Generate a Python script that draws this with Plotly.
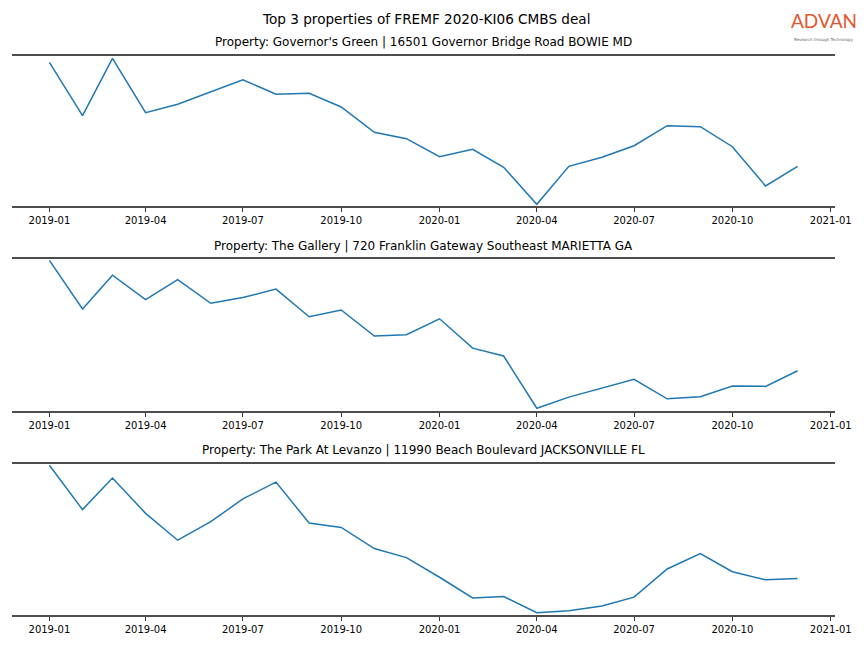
import pandas as pd
import plotly.graph_objects as go

months = pd.date_range("2019-01-01", "2020-12-01", freq="MS")

titles = [
    "Property: Governor's Green | 16501 Governor Bridge Road BOWIE MD",
    "Property: The Gallery | 720 Franklin Gateway Southeast MARIETTA GA",
    "Property: The Park At Levanzo | 11990 Beach Boulevard JACKSONVILLE FL",
]

governors_green = [143.4, 90.0, 147.4, 93.0, 101.4, 113.7, 126.0, 111.4, 112.4, 98.7, 73.4, 67.0,
                   49.0, 56.4, 38.4, 1.4, 39.4, 48.4, 60.0, 80.0, 79.0, 59.0, 19.7, 39.4]
the_gallery = [148.4, 100.4, 133.7, 109.7, 129.4, 106.0, 111.7, 120.0, 92.7, 99.4, 73.7, 75.0,
               90.7, 61.7, 54.0, 2.4, 13.4, 22.0, 31.0, 11.7, 13.7, 24.4, 24.0, 39.4]
park_at_levanzo = [148.4, 104.4, 135.7, 100.7, 74.0, 92.4, 115.0, 131.7, 91.0, 86.7, 65.7, 56.7,
                   37.2, 16.7, 18.0, 2.0, 4.0, 8.7, 17.4, 45.4, 60.7, 42.7, 34.7, 36.0]

series = [governors_green, the_gallery, park_at_levanzo]

W, H = 864, 648
FONT = "DejaVu Sans"

def py(px):
    return 1 - px / H

# plot areas (pixel top, bottom)
areas = [(55.7, 205.7), (258.7, 410.7), (463.7, 614.7)]
title_y = [42, 246, 450]
xdom = [12 / W, 835 / W]
ax_center = (xdom[0] + xdom[1]) / 2

span = months[-1] - months[0]
xrange_ = [months[0] - span * 0.05, months[-1] + span * 0.05]

fig = go.Figure()
layout = dict(
    width=W, height=H,
    autosize=False,
    margin=dict(l=0, r=0, t=0, b=0, pad=0),
    paper_bgcolor="white", plot_bgcolor="white",
    showlegend=False,
    font=dict(family=FONT, color="black"),
)

annotations = [
    dict(text="Top 3 properties of FREMF 2020-KI06 CMBS deal", x=260 / W, y=py(19),
         xref="paper", yref="paper", showarrow=False, xanchor="left", yanchor="middle",
         font=dict(family=FONT, size=13.6, color="black")),
    dict(text="ADVAN", x=824 / W, y=py(34), xref="paper", yref="paper", showarrow=False,
         xanchor="center", yanchor="bottom",
         font=dict(family="Lato", size=19, color="#e4572e")),
    dict(text="Research through Technology", x=824 / W, y=py(35), xref="paper", yref="paper",
         showarrow=False, xanchor="center", yanchor="top",
         font=dict(family=FONT, size=4, color="#666666")),
]

for i, (vals, title, (top, bot), ty) in enumerate(zip(series, titles, areas, title_y)):
    n = "" if i == 0 else str(i + 1)
    fig.add_trace(go.Scatter(x=months, y=vals, mode="lines",
                             line=dict(color="#1f77b4", width=1.5),
                             xaxis="x" + n, yaxis="y" + n, hoverinfo="skip"))
    layout["xaxis" + n] = dict(
        domain=xdom, anchor="y" + n, range=xrange_, automargin=False,
        showline=True, mirror=True, linecolor="#4d4d4d", linewidth=2,
        showgrid=False, zeroline=False,
        ticks="outside", ticklen=4, tickwidth=1, tickcolor="#333333",
        tick0="2019-01-01", dtick="M3", tickformat="%Y-%m",
        tickfont=dict(family=FONT, size=10, color="black"),
    )
    layout["yaxis" + n] = dict(
        domain=[py(bot), py(top)], anchor="x" + n, range=[0, 150], automargin=False,
        showline=False, showgrid=False, zeroline=False,
        showticklabels=False, ticks="",
    )
    annotations.append(dict(text=title, x=ax_center, y=py(ty), xref="paper", yref="paper",
                            showarrow=False, xanchor="center", yanchor="middle",
                            font=dict(family=FONT, size=12, color="black")))

layout["annotations"] = annotations
fig.update_layout(**layout)
fig.write_html("out.html",
               config={"displayModeBar": False, "responsive": False},
               post_script="document.body.style.margin='0';")
